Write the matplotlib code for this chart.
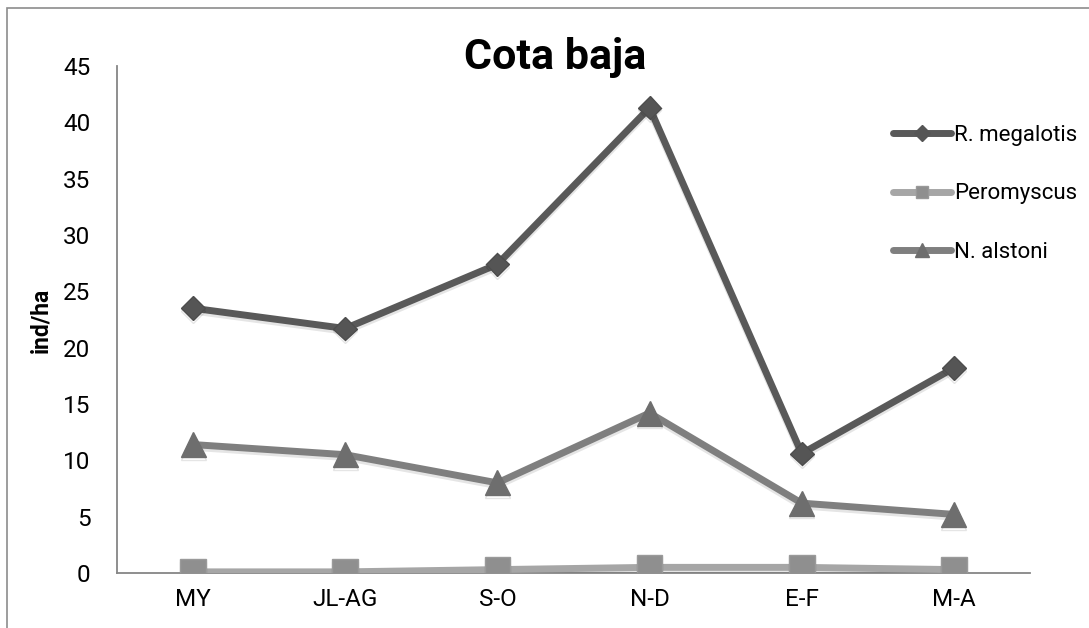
import matplotlib
matplotlib.use("Agg")
import matplotlib.pyplot as plt
import matplotlib.patheffects as pe
from matplotlib.lines import Line2D
from matplotlib.patches import Rectangle

categories = ["MY", "JL-AG", "S-O", "N-D", "E-F", "M-A"]
r_megalotis = [23.5, 21.7, 27.4, 41.3, 10.6, 18.2]
peromyscus = [0.1, 0.1, 0.3, 0.5, 0.5, 0.3]
n_alstoni = [11.4, 10.5, 8.0, 14.2, 6.2, 5.2]
series_names = ["R. megalotis", "Peromyscus", "N. alstoni"]
yticks = [0, 5, 10, 15, 20, 25, 30, 35, 40, 45]

FONT = ["Liberation Sans Narrow", "Roboto", "Liberation Sans", "DejaVu Sans"]
plt.rcParams["font.family"] = FONT

fig = plt.figure(figsize=(10.89, 6.28), dpi=100)
ax = fig.add_axes([117/1089, 1-573/628, (1030-117)/1089, (573-66)/628])

# outer chart frame (cropped at right and bottom)
fig.patches.append(Rectangle((7/1089, -0.1), 1.2, 1.1 - 8/628,
                             transform=fig.transFigure, fill=False,
                             edgecolor="#8c8c8c", linewidth=1.2))

x = list(range(len(categories)))
shadow = [pe.SimpleLineShadow(offset=(0, -2), alpha=0.10, shadow_color="black"), pe.Normal()]

ax.plot(x, r_megalotis, color="#595959", lw=5, marker="D", ms=12,
        mfc="#555555", mec="#4d4d4d", solid_capstyle="round", path_effects=shadow, zorder=3)
ax.plot(x, peromyscus, color="#a6a6a6", lw=5, marker="s", ms=18.5,
        mfc="#8f8f8f", mec="#9a9a9a", solid_capstyle="round", path_effects=shadow, zorder=3)
ax.plot(x, n_alstoni, color="#7f7f7f", lw=5, marker="^", ms=18,
        mfc="#6e6e6e", mec="#6e6e6e", solid_capstyle="round", path_effects=shadow, zorder=3)

ax.set_xlim(-0.5, len(categories) - 0.5)
ax.set_ylim(0, 45)
ax.set_yticks(yticks)
ax.set_xticks(x)
ax.set_xticklabels(categories)
ax.tick_params(axis="y", length=0, pad=19, labelsize=17.5)
ax.tick_params(axis="x", length=0, pad=11, labelsize=17.5)
for s in ["top", "right"]:
    ax.spines[s].set_visible(False)
for s in ["left", "bottom"]:
    ax.spines[s].set_color("#868686")
    ax.spines[s].set_linewidth(1.3)
    ax.spines[s].set_zorder(1)

ax.set_ylabel("ind/ha", fontsize=16.5, fontweight="bold")
ax.yaxis.set_label_coords(52/1089, 1-320/628, transform=fig.transFigure)

fig.text(555/1089, 1-57/628, "Cota baja", fontsize=31, fontweight="bold",
         ha="center", va="center")

handles = [
    Line2D([], [], color="#595959", lw=5, marker="D", ms=8, mfc="#555555", mec="#555555", solid_capstyle="round"),
    Line2D([], [], color="#a6a6a6", lw=5, marker="s", ms=9, mfc="#8f8f8f", mec="#999999", solid_capstyle="round"),
    Line2D([], [], color="#7f7f7f", lw=5, marker="^", ms=10, mfc="#6e6e6e", mec="#6e6e6e", solid_capstyle="round"),
]
leg = fig.legend(handles, series_names, loc="upper left",
                 bbox_to_anchor=(893/1089, 1-125/628), bbox_transform=fig.transFigure,
                 frameon=False, fontsize=16, handlelength=2.6, handletextpad=0.15,
                 labelspacing=1.68, borderpad=0, borderaxespad=0)

fig.savefig("out.png", dpi=100)
